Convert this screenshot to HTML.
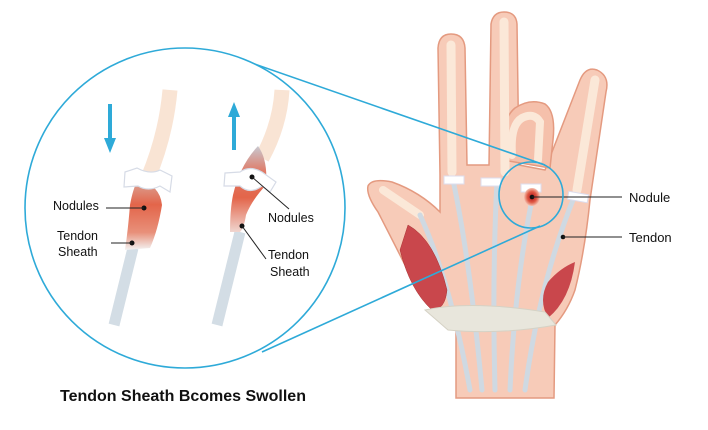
<!DOCTYPE html>
<html><head><meta charset="utf-8"><style>
html,body{margin:0;padding:0;background:#fff;}
svg{display:block}
text{font-family:"Liberation Sans",sans-serif;fill:#111}
</style></head><body>
<svg width="708" height="430" viewBox="0 0 708 430" xmlns="http://www.w3.org/2000/svg">
<defs>
<linearGradient id="sw1" x1="0" y1="0" x2="0" y2="1">
<stop offset="0" stop-color="#d9a79a"/><stop offset="0.35" stop-color="#e3654a"/><stop offset="0.75" stop-color="#e8907a"/><stop offset="1" stop-color="#f3f3f3"/>
</linearGradient>
<linearGradient id="sw2" x1="0" y1="0" x2="0" y2="1">
<stop offset="0" stop-color="#c8c8d0"/><stop offset="0.3" stop-color="#e07a66"/><stop offset="0.6" stop-color="#e3654a"/><stop offset="1" stop-color="#f0d6d0"/>
</linearGradient>
<radialGradient id="nod"><stop offset="0" stop-color="#b0101a"/><stop offset="0.6" stop-color="#e05a45"/><stop offset="1" stop-color="#f4c0b0"/></radialGradient>
</defs>

<!-- HAND -->
<path d="M368,186 Q372,178 392,182 Q420,192 440,212 L440,175 L438,48 Q439,34 451,34 Q464,34 465,48 L467,165 L489,165 L491,24 Q493,12 504,12 Q516,12 517,24 L519,165 L545,170 L580,80 Q586,66 597,70 Q610,76 606,92 L590,200 Q585,250 575,290 Q568,310 555,325 L554,398 L456,398 L456,328 Q430,305 410,275 Q395,245 378,212 Q366,195 368,186 Z" fill="#f7cbb8" stroke="#e49a80" stroke-width="1.5"/>
<!-- bent ring finger -->
<path d="M503,160 Q500,120 515,108 Q530,98 545,104 Q556,112 553,140 L550,168 Z" fill="#f5c0ab" stroke="#e49a80" stroke-width="1.5"/>
<path d="M512,155 Q510,125 522,118 Q534,112 540,122 L538,160" fill="none" stroke="#fbe8d8" stroke-width="8" stroke-linecap="round"/>
<!-- finger tendons -->
<line x1="451" y1="45" x2="452" y2="172" stroke="#fbe8d8" stroke-width="9" stroke-linecap="round"/>
<line x1="504" y1="22" x2="505" y2="172" stroke="#fbe8d8" stroke-width="9" stroke-linecap="round"/>
<line x1="595" y1="80" x2="577" y2="190" stroke="#fbe8d8" stroke-width="9" stroke-linecap="round"/>
<line x1="383" y1="190" x2="420" y2="215" stroke="#fbe8d8" stroke-width="8" stroke-linecap="round"/>
<!-- palm tendons -->
<g stroke="#cfd9e2" stroke-width="5" fill="none" stroke-linecap="round">
<path d="M453,180 Q470,260 482,390"/>
<path d="M497,180 Q492,280 495,390"/>
<path d="M533,195 Q515,280 510,390"/>
<path d="M575,195 Q540,280 525,390"/>
<path d="M420,215 Q450,280 470,390"/>
</g>
<!-- pulleys -->
<g fill="#fff" stroke="#dde" stroke-width="1">
<rect x="444" y="176" width="20" height="8"/><rect x="481" y="178" width="20" height="8"/>
<rect x="521" y="184" width="20" height="8"/><rect x="568" y="193" width="20" height="8" transform="rotate(10 578 197)"/>
</g>
<!-- nodule -->
<ellipse cx="532" cy="197" rx="8" ry="9" fill="url(#nod)"/>
<!-- muscles -->
<path d="M408,225 Q435,240 447,290 Q445,310 432,310 Q410,290 400,250 Z" fill="#c9474c" stroke="#a33" stroke-width="0.5"/>
<path d="M575,262 Q570,300 548,318 Q538,300 548,282 Q560,268 575,262 Z" fill="#c9474c"/>
<!-- ligament -->
<path d="M425,310 Q470,300 545,312 L556,325 Q500,335 448,330 Z" fill="#e8e6dc" stroke="#d5d2c5" stroke-width="1"/>
<circle cx="563" cy="237" r="2.3" fill="#111"/>
<circle cx="532" cy="197" r="2.3" fill="#111"/>
<line x1="532" y1="197" x2="622" y2="197" stroke="#222" stroke-width="1"/>
<line x1="563" y1="237" x2="622" y2="237" stroke="#222" stroke-width="1"/>
<text x="629" y="202" font-size="13">Nodule</text>
<text x="629" y="242" font-size="13">Tendon</text>

<!-- ZOOM LINES -->
<ellipse cx="531" cy="195" rx="32" ry="33" fill="none" stroke="#2eaad8" stroke-width="1.6"/>
<line x1="243" y1="60" x2="545" y2="165" stroke="#2eaad8" stroke-width="1.6"/>
<line x1="262" y1="352" x2="540" y2="226" stroke="#2eaad8" stroke-width="1.6"/>
<circle cx="185" cy="208" r="160" fill="#fff" stroke="#2eaad8" stroke-width="1.6"/>

<!-- left tendon -->
<path d="M170,90 Q166,135 148,178" stroke="#f9e4d4" stroke-width="15" fill="none"/>
<path d="M133,248 L114,325" stroke="#d3dde5" stroke-width="11" fill="none"/>
<path d="M138,180 Q160,185 162,205 Q158,230 150,248 L125,250 Q128,230 130,205 Q133,188 138,180 Z" fill="url(#sw1)"/>
<path d="M125,172 L137,168 Q150,175 160,170 L172,176 L170,192 L160,186 Q148,192 138,186 L124,187 Z" fill="#fff" stroke="#d6dbe6" stroke-width="1.2"/>
<!-- right tendon -->
<path d="M282,90 Q280,125 262,158" stroke="#f9e4d4" stroke-width="15" fill="none"/>
<path d="M240,232 L217,325" stroke="#d3dde5" stroke-width="11" fill="none"/>
<path d="M258,146 Q268,160 266,185 Q252,200 246,215 Q244,228 240,232 L230,232 Q230,210 233,195 Q240,165 258,146 Z" fill="url(#sw2)"/>
<path d="M225,173 L240,172 Q250,165 262,172 L276,182 L270,192 L262,186 Q250,195 240,186 L224,186 Z" fill="#fff" stroke="#d6dbe6" stroke-width="1.2"/>
<!-- arrows -->
<line x1="110" y1="104" x2="110" y2="140" stroke="#2eaad8" stroke-width="4"/>
<polygon points="104,138 116,138 110,153" fill="#2eaad8"/>
<line x1="234" y1="150" x2="234" y2="115" stroke="#2eaad8" stroke-width="4"/>
<polygon points="228,117 240,117 234,102" fill="#2eaad8"/>
<!-- labels -->
<g fill="#111">
<circle cx="144" cy="208" r="2.5"/><circle cx="132" cy="243" r="2.5"/>
<circle cx="252" cy="177" r="2.5"/><circle cx="242" cy="226" r="2.5"/>
</g>
<g stroke="#222" stroke-width="1">
<line x1="106" y1="208" x2="144" y2="208"/><line x1="111" y1="243" x2="132" y2="243"/>
<line x1="252" y1="177" x2="289" y2="209"/><line x1="242" y1="226" x2="266" y2="259"/>
</g>
<text x="53" y="210" font-size="12.5">Nodules</text>
<text x="57" y="240" font-size="12.5">Tendon</text>
<text x="58" y="256" font-size="12.5">Sheath</text>
<text x="268" y="222" font-size="12.5">Nodules</text>
<text x="268" y="259" font-size="12.5">Tendon</text>
<text x="270" y="276" font-size="12.5">Sheath</text>
<text x="60" y="401" font-size="16" font-weight="bold">Tendon Sheath Bcomes Swollen</text>
</svg>
</body></html>
